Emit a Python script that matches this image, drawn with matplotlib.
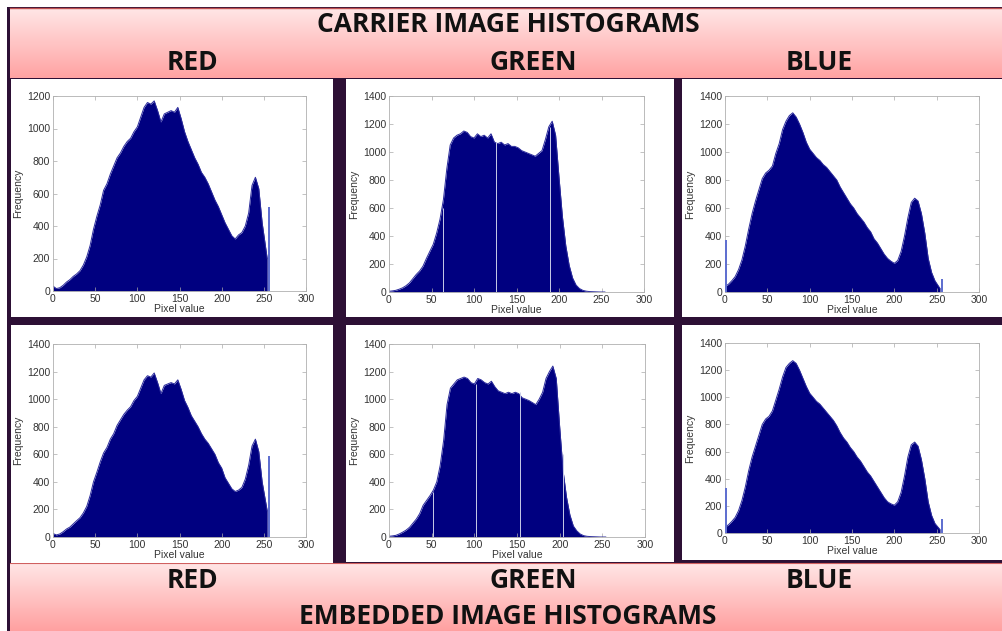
import matplotlib
matplotlib.use("Agg")
import matplotlib.pyplot as plt
from matplotlib.patches import Rectangle
import numpy as np

# pixel values at which the histogram heights were read
pixel_values = list(range(0, 252, 4)) + [254]

red_carrier = [30, 15, 20, 35, 55, 70, 90, 105, 125, 160, 210, 280, 380, 460, 530, 620,
               660, 720, 770, 820, 850, 890, 920, 940, 980, 1010, 1070, 1130, 1160, 1150, 1170, 1110,
               1040, 1090, 1100, 1110, 1100, 1130, 1060, 980, 920, 870, 820, 780, 730, 700, 660, 610,
               560, 520, 470, 420, 380, 340, 320, 345, 360, 400, 480, 650, 700, 630, 420, 200]
green_carrier = [5, 8, 12, 20, 30, 45, 65, 95, 125, 150, 185, 240, 290, 340, 420, 520,
                 660, 880, 1050, 1100, 1120, 1130, 1150, 1140, 1110, 1100, 1130, 1110, 1120, 1100, 1130, 1070,
                 1060, 1070, 1050, 1060, 1040, 1040, 1030, 1010, 1000, 990, 980, 970, 990, 1010, 1090, 1180,
                 1220, 1120, 820, 540, 330, 190, 100, 50, 25, 12, 6, 3, 2, 1, 0, 0]
blue_carrier = [40, 55, 80, 110, 160, 230, 330, 450, 560, 650, 730, 810, 850, 870, 900, 990,
                1060, 1160, 1220, 1260, 1280, 1250, 1200, 1140, 1070, 1020, 990, 960, 940, 910, 890, 860,
                830, 800, 750, 710, 670, 630, 600, 560, 530, 500, 460, 430, 380, 350, 310, 270,
                240, 220, 205, 225, 290, 400, 530, 640, 670, 650, 560, 420, 240, 140, 80, 25]

red_embedded = [25, 15, 22, 38, 58, 72, 95, 118, 140, 175, 222, 300, 400, 470, 545, 610,
                650, 710, 750, 810, 850, 890, 920, 945, 990, 1020, 1080, 1140, 1170, 1160, 1190, 1120,
                1040, 1100, 1110, 1120, 1110, 1140, 1070, 990, 940, 880, 840, 800, 750, 710, 680, 640,
                600, 540, 500, 430, 390, 350, 330, 340, 360, 420, 520, 660, 710, 620, 400, 190]
green_embedded = [5, 8, 12, 22, 35, 50, 70, 100, 130, 170, 230, 265, 300, 340, 400, 520,
                  700, 960, 1080, 1110, 1140, 1150, 1160, 1150, 1120, 1110, 1150, 1140, 1120, 1110, 1130, 1090,
                  1060, 1050, 1040, 1050, 1040, 1050, 1040, 1010, 1000, 990, 975, 960, 1000, 1050, 1150, 1200,
                  1240, 1150, 800, 480, 290, 160, 80, 45, 22, 10, 5, 3, 2, 1, 0, 0]
blue_embedded = [45, 60, 85, 115, 165, 240, 340, 460, 560, 640, 720, 800, 840, 860, 900, 980,
                 1060, 1150, 1220, 1250, 1270, 1250, 1200, 1140, 1080, 1030, 1000, 970, 950, 920, 890, 860,
                 830, 790, 740, 700, 670, 630, 600, 560, 530, 490, 450, 420, 380, 340, 300, 260,
                 230, 215, 205, 230, 300, 420, 560, 650, 670, 640, 540, 400, 230, 130, 70, 25]

# single-value spikes at the ends of the range
red_carrier_spike = ([255], [520])
red_embedded_spike = ([255], [585])
blue_carrier_spike = ([0, 255], [373, 95])
blue_embedded_spike = ([0, 255], [335, 105])

# empty bins that show as thin light lines inside the green histograms
green_carrier_gaps = ([63, 126, 189], [600, 1070, 1180])
green_embedded_gaps = ([51, 102, 153, 204], [330, 1110, 1050, 600])

W, H = 1002, 631
fig = plt.figure(figsize=(W / 100, H / 100), dpi=100)
fig.patch.set_facecolor("white")

bg = fig.add_axes([0, 0, 1, 1])
bg.axis("off")

frame = "#2d1035"
bg.add_patch(Rectangle((7, 7), W - 7, H - 7, color=frame, lw=0, zorder=0.5))


def gradient(x0, x1, y0, y1, top, bottom):
    top = np.array(matplotlib.colors.to_rgb(top))
    bottom = np.array(matplotlib.colors.to_rgb(bottom))
    t = np.linspace(0, 1, 64)[:, None, None]
    img = top * (1 - t) + bottom * t
    bg.imshow(img, extent=(x0, x1, y1, y0), aspect="auto",
              interpolation="bilinear", zorder=1)


gradient(10, W, 8, 78, "#ffe6e6", "#ffa3a3")
gradient(10, W, 563, H, "#ffe6e6", "#ffa0a0")
bg.plot([10, W], [7.5, 7.5], color="#c05050", lw=1, zorder=2)
bg.plot([10, W], [563, 563], color="#d06060", lw=0.8, zorder=2)

# white panels
panels = [(11, 79, 333, 317), (346, 79, 674, 317), (682, 79, W, 317),
          (11, 325, 333, 563), (346, 325, 674, 562), (682, 325, W, 560)]
for x0, y0, x1, y1 in panels:
    bg.add_patch(Rectangle((x0, y0), x1 - x0, y1 - y0, color="white", lw=0, zorder=2))

bg.set_xlim(0, W)
bg.set_ylim(H, 0)

head = dict(ha="center", va="center", fontsize=19, fontweight="bold",
            family="Open Sans", color="#111111", zorder=3)
bg.text(508, 25, "CARRIER IMAGE HISTOGRAMS", **head)
bg.text(192, 62, "RED", **head)
bg.text(533, 62, "GREEN", **head)
bg.text(819, 62, "BLUE", **head)
bg.text(192, 580, "RED", **head)
bg.text(533, 580, "GREEN", **head)
bg.text(819, 580, "BLUE", **head)
bg.text(508, 616, "EMBEDDED IMAGE HISTOGRAMS", **head)

navy = "#000080"
plots = [
    ((53, 96, 306, 291), red_carrier, 1200, red_carrier_spike, None),
    ((389, 96, 644, 292), green_carrier, 1400, None, green_carrier_gaps),
    ((725, 96, 979, 292), blue_carrier, 1400, blue_carrier_spike, None),
    ((53, 344, 306, 537), red_embedded, 1400, red_embedded_spike, None),
    ((389, 344, 645, 537), green_embedded, 1400, None, green_embedded_gaps),
    ((725, 343, 979, 533), blue_embedded, 1400, blue_embedded_spike, None),
]

for (l, t, r, b), counts, ymax, spike, gaps in plots:
    ax = fig.add_axes([l / W, 1 - b / H, (r - l) / W, (b - t) / H])
    ax.fill_between(pixel_values, counts, 0, color=navy, lw=0)
    ax.plot(pixel_values, counts, color="#2a2a9c", lw=0.7)
    if spike:
        ax.bar(spike[0], spike[1], width=2.2, align="edge", color="#6070d0",
               lw=0, zorder=3)
    if gaps:
        ax.vlines(gaps[0], 0, gaps[1], color="#c8cce8", lw=0.7)
    ax.set_xlim(0, 300)
    ax.set_ylim(0, ymax)
    ax.set_xticks(range(0, 301, 50))
    ax.set_yticks(range(0, ymax + 1, 200))
    ax.tick_params(direction="in", top=True, right=True, length=3, width=0.5,
                   color="#aaaaaa", labelsize=7.5, labelcolor="#333333", pad=2)
    for lab in ax.get_xticklabels() + ax.get_yticklabels():
        lab.set_family("Liberation Sans")
    for s in ax.spines.values():
        s.set_color("#b0b0b0")
        s.set_linewidth(0.6)
    ax.set_xlabel("Pixel value", fontsize=7.5, color="#333333", labelpad=0,
                  family="Liberation Sans")
    ax.set_ylabel("Frequency", fontsize=7.5, color="#333333", labelpad=3,
                  family="Liberation Sans")

fig.savefig("out.png", dpi=100)
